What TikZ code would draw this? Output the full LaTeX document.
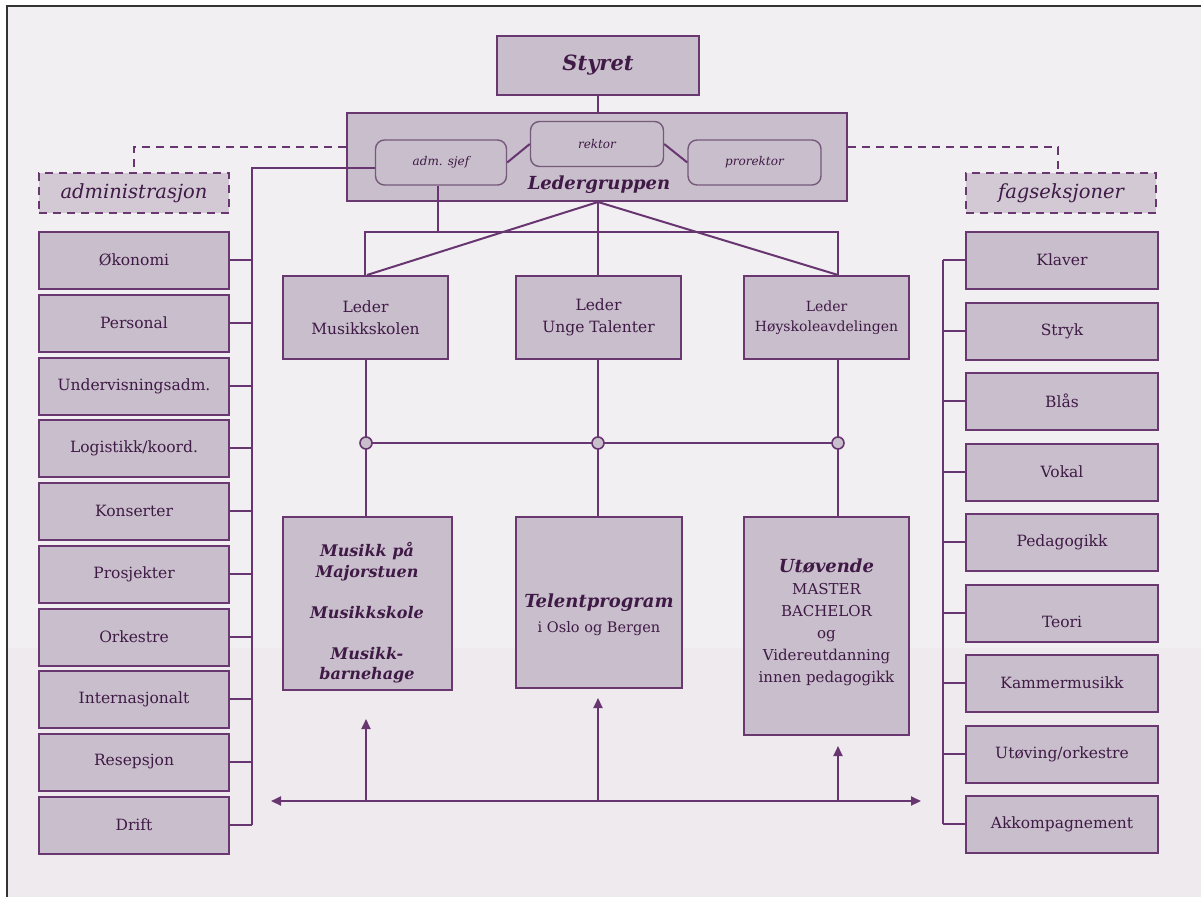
\documentclass[tikz,border=0pt]{standalone}
\usepackage{fontspec}
\setmainfont{DejaVu Serif}
\usetikzlibrary{arrows.meta,calc}
\definecolor{pfill}{HTML}{C9BECB}
\definecolor{dfill}{HTML}{D2C9D4}
\definecolor{pborder}{HTML}{6A3870}
\definecolor{rborder}{HTML}{765A7B}
\definecolor{pline}{HTML}{673570}
\definecolor{ptext}{HTML}{3F1A46}
\definecolor{bgtop}{HTML}{F2EFF2}
\definecolor{bgbot}{HTML}{EEEAEE}
\begin{document}
\begin{tikzpicture}[x=1pt,y=-1pt,
  box/.style={draw=pborder, fill=pfill, line width=2pt, text=ptext, inner sep=0pt, align=center},
  sidebox/.style={box, minimum width=190pt, minimum height=57pt, font=\fontsize{15.5}{18}\selectfont},
  fagbox/.style={box, minimum width=192pt, minimum height=57pt, font=\fontsize{15.5}{18}\selectfont},
  ledbox/.style={box, minimum width=165pt, minimum height=83pt, font=\fontsize{15.5}{22}\selectfont},
  rbox/.style={draw=rborder, fill=pfill, line width=1.4pt, rounded corners=9pt, minimum width=131pt, minimum height=45pt, inner sep=0pt, text=ptext, font=\fontsize{12}{14}\selectfont\itshape},
  dbox/.style={draw=pborder, fill=dfill, dash pattern=on 8pt off 6pt, line width=2pt, minimum width=190pt, minimum height=40pt, inner sep=0pt, text=ptext, font=\fontsize{19.5}{22}\selectfont\itshape},
  conn/.style={draw=pline, line width=2pt},
  thinconn/.style={draw=pline, line width=1.2pt},
  dconn/.style={conn, dash pattern=on 8pt off 6pt},
  lbl/.style={text=ptext, align=center, inner sep=0pt},
  dot/.style={circle, draw=pline, fill=pfill, line width=1.6pt, minimum size=12pt, inner sep=0pt},
  arr/.style={conn, -{Triangle[length=10pt,width=9pt]}},
  darr/.style={conn, {Triangle[length=10pt,width=9pt]}-{Triangle[length=10pt,width=9pt]}},
]
\useasboundingbox (0,0) rectangle (1201,897);
% background and frame
\fill[white] (0,0) rectangle (1201,897);
\fill[bgtop] (7,6) rectangle (1201,648);
\fill[bgbot] (7,648) rectangle (1201,897);
\draw[black!80, line width=2pt] (7,897) -- (7,6) -- (1201,6);

% top
\node[box, minimum width=202pt, minimum height=59pt, font=\fontsize{21}{24}\selectfont\bfseries\itshape] (sty) at (598,65) {Styret};
\node[box, minimum width=500pt, minimum height=88pt] (lg) at (597,157) {};
\node[lbl, font=\fontsize{18}{20}\selectfont\bfseries\itshape] (lgt) at (599,185) {Ledergruppen};
\node[rbox] (adm) at (441,162.5) {adm. sjef};
\node[rbox, minimum width=133pt] (rek) at (597,144) {rektor};
\node[rbox, minimum width=133pt] (pro) at (754.5,162.5) {prorektor};
\draw[conn] (adm.east) -- (rek.west);
\draw[conn] (rek.east) -- (pro.west);
\draw[conn] (sty.south) -- (sty.south |- lg.north);

% side headers
\node[dbox] (admin) at (134,193) {administrasjon};
\node[dbox] (fag) at (1061,193) {fagseksjoner};
\draw[dconn] ([yshift=10pt]lg.west) -| (admin.north);
\draw[dconn] ([yshift=10pt]lg.east) -| ([xshift=-3pt]fag.north);

% administration column
\foreach \t [count=\i] in {Økonomi,Personal,Undervisningsadm.,Logistikk/koord.,Konserter,Prosjekter,Orkestre,Internasjonalt,Resepsjon,Drift}{
  \node[sidebox] (a\i) at (134,{round(260+62.75*(\i-1))}) {\t};
}
\coordinate (ac) at (252,168);
\draw[conn] ([yshift=-5.5pt]adm.west) -- (ac) -- (ac |- a10.east);
\foreach \i in {1,...,10}{ \draw[conn] (a\i.east) -- (a\i.east -| ac); }

% fag column
\foreach \t [count=\i] in {Klaver,Stryk,Blås,Vokal,Pedagogikk,{},Kammermusikk,Utøving/orkestre,Akkompagnement}{
  \node[fagbox] (f\i) at (1062,{round(260+70.55*(\i-1))}) {\t};
}
\node[lbl, font=\fontsize{15.5}{18}\selectfont] (teori) at ($(f6)+(0,8.5)$) {Teori};
\coordinate (fc) at (943,259);
\draw[conn] (fc |- f1.west) -- (fc |- f9.west);
\foreach \i in {1,...,9}{ \draw[conn] (f\i.west) -- (f\i.west -| fc); }

% leaders
\node[ledbox] (lm) at (365.5,317.5) {Leder\\Musikkskolen};
\node[ledbox] (lu) at (598.5,317.5) {Leder\\Unge Talenter};
\node[ledbox, font=\fontsize{14}{20}\selectfont] (lh) at (826.5,317.5) {Leder\\Høyskoleavdelingen};
\coordinate (hbL) at (365,232);
\coordinate (hbR) at (838,232);
\draw[conn] (lm.north -| hbL) -- (hbL) -- (hbR) -- (hbR |- lm.north);
\draw[conn] (lg.south -| sty.south) -- (lu.north -| sty.south);
\draw[conn] (lg.south -| sty.south) -- ([xshift=2pt]lm.north -| hbL);
\draw[conn] (lg.south -| sty.south) -- (hbR |- lm.north);
\draw[thinconn] ([xshift=-3pt]adm.south) -- ([xshift=-3pt]adm.south |- hbL);

% bottom boxes
\node[box, minimum width=169pt, minimum height=173pt] (b1) at (367.5,603.5) {};
\node[box, minimum width=166pt, minimum height=171pt] (b2) at (599,602.5) {};
\node[box, minimum width=165pt, minimum height=218pt] (b3) at (826.5,626) {};
\node[lbl, font=\fontsize{16}{20.5}\selectfont\bfseries\itshape] (t1) at (367,613) {Musikk på\\Majorstuen\\[20.5pt]Musikkskole\\[20.5pt]Musikk-\\barnehage};
\node[lbl, font=\fontsize{14.5}{25}\selectfont] (t2) at (599,614.5) {{\fontsize{18}{25}\selectfont\bfseries\itshape Telentprogram}\\i Oslo og Bergen};
\node[lbl, font=\fontsize{15}{22}\selectfont] (t3) at (826.5,622) {{\fontsize{18}{22}\selectfont\bfseries\itshape Utøvende}\\MASTER\\BACHELOR\\og\\Videreutdanning\\innen pedagogikk};

% circles and connections
\coordinate (c1) at (366,443);
\coordinate (c2) at (598,443);
\coordinate (c3) at (838,443);
\draw[conn] (c1 |- lm.south) -- (c1 |- b1.north);
\draw[conn] (c2 |- lu.south) -- (c2 |- b2.north);
\draw[conn] (c3 |- lm.south) -- (c3 |- b3.north);
\draw[conn] (c1) -- (c3);
\node[dot] (d1) at (c1) {};
\node[dot] (d2) at (c2) {};
\node[dot] (d3) at (c3) {};

% bottom arrows
\coordinate (bl) at (271,801);
\coordinate (br) at (921,801);
\draw[darr] (bl) -- (br);
\draw[arr] (c1 |- bl) -- ($(c1 |- b1.south)+(0,28)$);
\draw[arr] (c2 |- bl) -- ($(c2 |- b2.south)+(0,9)$);
\draw[arr] (c3 |- bl) -- ($(c3 |- b3.south)+(0,10)$);
\end{tikzpicture}
\end{document}
